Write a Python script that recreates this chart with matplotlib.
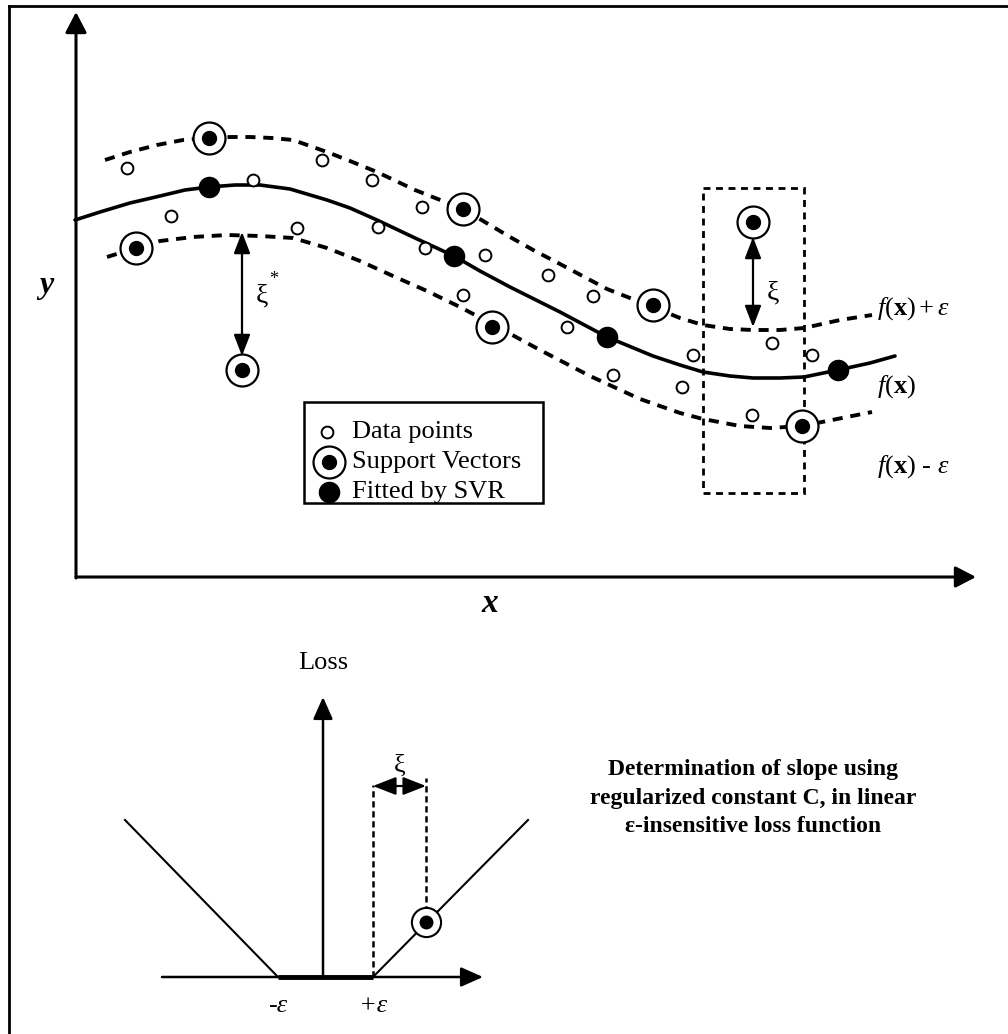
import matplotlib

matplotlib.use("Agg")
import matplotlib.pyplot as plt
from matplotlib.patches import FancyArrowPatch, Rectangle

plt.rcParams["font.family"] = ["Liberation Serif", "DejaVu Serif"]
plt.rcParams["mathtext.fontset"] = "custom"
plt.rcParams["mathtext.rm"] = "Liberation Serif"
plt.rcParams["mathtext.it"] = "Liberation Serif:italic"
plt.rcParams["mathtext.bf"] = "Liberation Serif:bold"

# --- upper panel: regression curve and tube (image pixel coordinates) ---
fx_x = [75, 100, 130, 160, 185, 209, 235, 260, 290, 327, 350, 377, 415, 454, 480, 510,
        560, 607, 653, 680, 703, 730, 753, 780, 804, 838, 870, 895]
fx_y = [220, 212, 203, 196, 190, 187, 185, 185, 189, 200, 208, 220, 238, 256, 271, 287,
        312, 337, 356, 365, 372, 376, 378, 378, 377, 370, 363, 356]

upper_x = [105, 130, 157, 183, 209, 230, 250, 272, 293, 327, 350, 377, 415, 463, 510, 535,
           560, 607, 653, 680, 703, 730, 753, 780, 804, 840, 872]
upper_y = [160, 152, 145, 140, 138, 137, 137, 138, 140, 152, 161, 172, 190, 209, 237, 251,
           264, 289, 307, 318, 325, 329, 330, 330, 328, 320, 315]

lower_x = [107, 136, 160, 193, 227, 260, 293, 327, 360, 393, 427, 460, 492, 540, 590, 640,
           680, 703, 740, 770, 802, 827, 872]
lower_y = [257, 248, 241, 237, 235, 236, 238, 248, 261, 276, 291, 307, 324, 350, 376, 399,
           413, 419, 426, 428, 426, 421, 412]

data_x = [127, 171, 253, 297, 322, 372, 378, 422, 425, 485, 463, 548, 567, 593, 613, 682, 693, 752, 772, 812]
data_y = [168, 216, 180, 228, 160, 180, 227, 207, 248, 255, 295, 275, 327, 296, 375, 387, 355, 415, 343, 355]

sv_x = [209, 136, 242, 463, 492, 653, 753, 802]
sv_y = [138, 248, 370, 209, 327, 305, 222, 426]

fit_x = [209, 454, 607, 838]
fit_y = [187, 256, 337, 370]

legend_labels = ["Data points", "Support Vectors", "Fitted by SVR"]
curve_labels = [r"$\mathit{f}(\mathbf{x})+\varepsilon$", r"$\mathit{f}(\mathbf{x})$",
                r"$\mathit{f}(\mathbf{x})$ - $\varepsilon$"]

# --- lower panel: epsilon-insensitive loss ---
loss_x = [125, 278, 373, 528]
loss_y = [820, 977, 977, 820]
loss_sv = (426, 922)
eps_ticks = [278, 373]
eps_labels = ["-ε", "+ε"]
note_lines = ["Determination of slope using", "regularized constant C, in linear",
              "ε-insensitive loss function"]

fig = plt.figure(figsize=(10.08, 10.34), dpi=100)
ax = fig.add_axes([0, 0, 1, 1])
ax.set_xlim(0, 1008)
ax.set_ylim(1034, 0)
ax.axis("off")


def arrow(p0, p1, style, lw=2.0, **kw):
    ax.add_patch(FancyArrowPatch(p0, p1, arrowstyle=style, mutation_scale=10, lw=lw,
                                 color="black", shrinkA=0, shrinkB=0, **kw))


# outer frame (top and left edges only)
ax.plot([9, 1008], [6, 6], color="black", lw=2.0)
ax.plot([9, 9], [6, 1034], color="black", lw=2.0)

# main axes
arrow((76, 578), (76, 12), "-|>,head_length=1.25,head_width=0.65", lw=2.2)
arrow((76, 577), (976, 577), "-|>,head_length=1.25,head_width=0.65", lw=2.2)
ax.text(46, 286, "y", fontsize=23, fontweight="bold", fontstyle="italic", ha="center", va="center")
ax.text(490, 603, "x", fontsize=24, fontweight="bold", fontstyle="italic", ha="center", va="center")

# curves
ax.plot(fx_x, fx_y, color="black", lw=2.6, solid_capstyle="round", solid_joinstyle="round", zorder=3)
for xs, ys in [(upper_x, upper_y), (lower_x, lower_y)]:
    ax.plot(xs, ys, color="black", lw=2.8, dashes=(2.6, 2.0), zorder=3)

# points
ax.plot(data_x, data_y, "o", ms=8.5, mfc="white", mec="black", mew=1.4, ls="none", zorder=4)
ax.plot(sv_x, sv_y, "o", ms=23, mfc="white", mec="black", mew=1.6, ls="none", zorder=4)
ax.plot(sv_x, sv_y, "o", ms=10, color="black", ls="none", zorder=5)
ax.plot(fit_x, fit_y, "o", ms=14.5, color="black", ls="none", zorder=5)

# slack arrows
arrow((242, 356), (242, 232), "<|-|>,head_length=1.3,head_width=0.5", lw=1.6, zorder=6)
ax.text(262, 296, "ξ", fontsize=20, ha="center", va="center")
ax.text(274, 279, "*", fontsize=13, ha="center", va="center")
arrow((753, 327), (753, 237), "<|-|>,head_length=1.3,head_width=0.5", lw=1.6, zorder=6)
ax.text(773, 293, "ξ", fontsize=20, ha="center", va="center")

# dashed box around the outlier
ax.add_patch(Rectangle((703, 188), 101, 305, fill=False, ec="black", lw=2.0,
                       ls=(0, (2.5, 2.0)), zorder=2))

# curve labels
for lab, ly in zip(curve_labels, [309, 387, 467]):
    ax.text(877, ly, lab, fontsize=19, ha="left", va="center")

# legend box
ax.add_patch(Rectangle((304, 402), 239, 101, fill=False, ec="black", lw=1.8, zorder=6))
leg_y = [432, 462, 492]
ax.plot([327], [leg_y[0]], "o", ms=8.5, mfc="white", mec="black", mew=1.4, zorder=7)
ax.plot([329], [leg_y[1]], "o", ms=23, mfc="white", mec="black", mew=1.6, zorder=7)
ax.plot([329], [leg_y[1]], "o", ms=10, color="black", zorder=8)
ax.plot([329], [leg_y[2]], "o", ms=14.5, color="black", zorder=7)
for lab, ly in zip(legend_labels, leg_y):
    ax.text(352, ly, lab, fontsize=19, ha="left", va="center", zorder=8)

# --- loss function panel ---
arrow((323, 978), (323, 697), "-|>,head_length=1.35,head_width=0.6", lw=1.8)
arrow((162, 977), (483, 977), "-|>,head_length=1.35,head_width=0.6", lw=1.8)
ax.text(323, 663, "Loss", fontsize=19, ha="center", va="center")
ax.plot(loss_x[:2], loss_y[:2], color="black", lw=1.5)
ax.plot(loss_x[1:3], loss_y[1:3], color="black", lw=3.5, solid_capstyle="butt")
ax.plot(loss_x[2:], loss_y[2:], color="black", lw=1.5)
ax.plot([loss_sv[0]], [loss_sv[1]], "o", ms=21, mfc="white", mec="black", mew=1.5, zorder=4)
ax.plot([loss_sv[0]], [loss_sv[1]], "o", ms=9, color="black", zorder=5)
ax.plot([eps_ticks[1], eps_ticks[1]], [977, 785], color="black", lw=1.8, ls=(0, (2.5, 1.5)))
ax.plot([loss_sv[0], loss_sv[0]], [loss_sv[1], 778], color="black", lw=1.8, ls=(0, (2.5, 1.5)))
arrow((eps_ticks[1], 786), (loss_sv[0], 786), "<|-|>,head_length=1.4,head_width=0.55", lw=1.6)
ax.text(400, 766, "ξ", fontsize=19, ha="center", va="center")
for ex, el in zip(eps_ticks, eps_labels):
    ax.text(ex, 1006, el, fontsize=19, fontstyle="italic", ha="center", va="center")

for i, line in enumerate(note_lines):
    ax.text(753, 770 + 28.5 * i, line, fontsize=17, fontweight="bold", ha="center", va="center")

fig.savefig("out.png", dpi=100)
